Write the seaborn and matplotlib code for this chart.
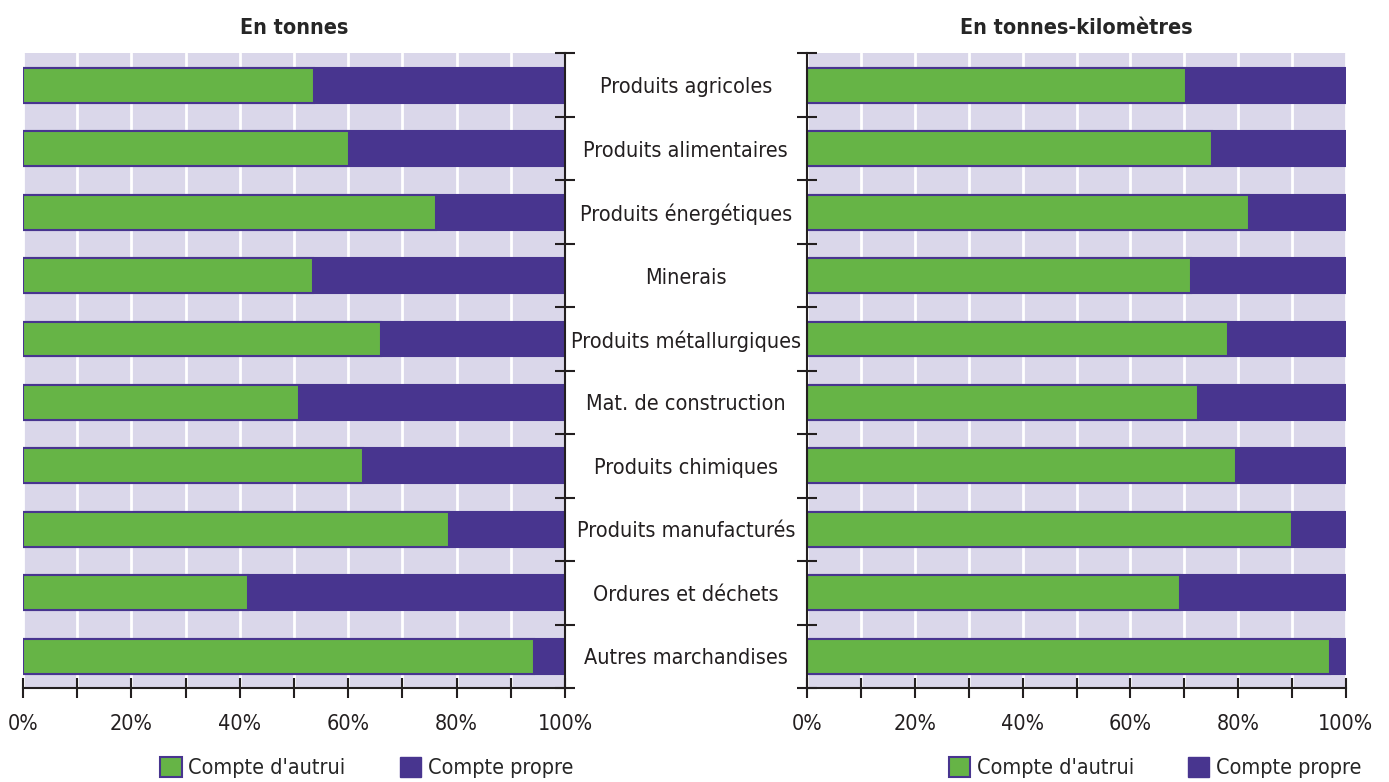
import seaborn as sns
import matplotlib.pyplot as plt
import pandas as pd
from matplotlib.patches import Patch

# Data
categories = ["Produits agricoles", "Produits alimentaires", "Produits énergétiques",
              "Minerais", "Produits métallurgiques", "Mat. de construction",
              "Produits chimiques", "Produits manufacturés", "Ordures et déchets",
              "Autres marchandises"]
autrui_tonnes = [53.7, 60.1, 76.2, 53.5, 66.1, 50.9, 62.7, 78.6, 41.5, 94.3]
autrui_tkm = [70.3, 75.1, 82.0, 71.2, 78.1, 72.5, 79.6, 90.0, 69.2, 97.0]
titles = ["En tonnes", "En tonnes-kilomètres"]
x_labels = ["0%", "", "20%", "", "40%", "", "60%", "", "80%", "", "100%"]

green = "#66B446"
purple = "#48358F"
bg = "#DAD7EA"
dark = "#231F20"

sns.set_style("white")
plt.rcParams['font.family'] = ['DejaVu Sans']
plt.rcParams['font.stretch'] = 'condensed'
fs = 15.5

fig = plt.figure(figsize=(13.89, 7.82), dpi=100)
ax_l = fig.add_axes([23 / 1389, 0.1202, 542 / 1389, 0.8114])
ax_r = fig.add_axes([807 / 1389, 0.1202, 539 / 1389, 0.8114])

for ax, vals, title in [(ax_l, autrui_tonnes, titles[0]), (ax_r, autrui_tkm, titles[1])]:
    df = pd.DataFrame({"cat": categories, "autrui": vals, "total": [100] * len(vals)})
    ax.set_facecolor(bg)
    sns.barplot(data=df, x="total", y="cat", orient="h", color=purple, saturation=1,
                width=0.55, edgecolor=purple, linewidth=1.5, ax=ax)
    sns.barplot(data=df, x="autrui", y="cat", orient="h", color=green, saturation=1,
                width=0.55, edgecolor=purple, linewidth=1.5, ax=ax)
    ax.set_xlim(0, 100)
    ax.set_ylim(9.5, -0.5)
    ax.set_xticks(range(0, 101, 10))
    ax.set_xticklabels(x_labels, fontsize=fs, color=dark)
    ax.grid(axis="x", color="white", lw=2)
    ax.set_axisbelow(True)
    ax.tick_params(axis="x", bottom=True, direction="inout", length=14, width=1.5,
                   color=dark, pad=12)
    ax.set_yticks([i - 0.5 for i in range(11)], minor=True)
    ax.set_xlabel("")
    ax.set_ylabel("")
    ax.set_title(title, fontsize=fs, fontweight="bold", pad=14)
    ax.spines["top"].set_visible(False)
    ax.spines["bottom"].set_color(dark)
    ax.spines["bottom"].set_linewidth(1.5)

# left panel: category labels centred between the panels
ax_l.spines["left"].set_visible(False)
ax_l.spines["right"].set_visible(True)
ax_l.spines["right"].set_color(dark)
ax_l.spines["right"].set_linewidth(1.5)
ax_l.yaxis.set_ticks_position("right")
ax_l.tick_params(axis="y", which="minor", right=True, left=False, direction="inout",
                 length=14, width=1.5, color=dark)
ax_l.tick_params(axis="y", which="major", right=True, left=False, length=0, pad=87,
                 labelright=True, labelleft=False, labelsize=fs, labelcolor=dark)
for lab in ax_l.get_yticklabels():
    lab.set_horizontalalignment("center")

ax_r.spines["right"].set_visible(False)
ax_r.spines["left"].set_color(dark)
ax_r.spines["left"].set_linewidth(1.5)
ax_r.tick_params(axis="y", which="minor", left=True, direction="inout",
                 length=14, width=1.5, color=dark)
ax_r.tick_params(axis="y", which="major", length=0, labelleft=False)

handles = [Patch(facecolor=green, edgecolor=purple, linewidth=1.5, label="Compte d'autrui"),
           Patch(facecolor=purple, edgecolor=purple, label="Compte propre")]
for cx in [0.264, 0.8315]:
    fig.legend(handles=handles, loc="center", bbox_to_anchor=(cx, 0.018), ncol=2,
               frameon=False, fontsize=fs, handlelength=1.0, handleheight=1.0,
               handletextpad=0.3, columnspacing=2.5, borderaxespad=0)

fig.savefig("out.png", dpi=100)
